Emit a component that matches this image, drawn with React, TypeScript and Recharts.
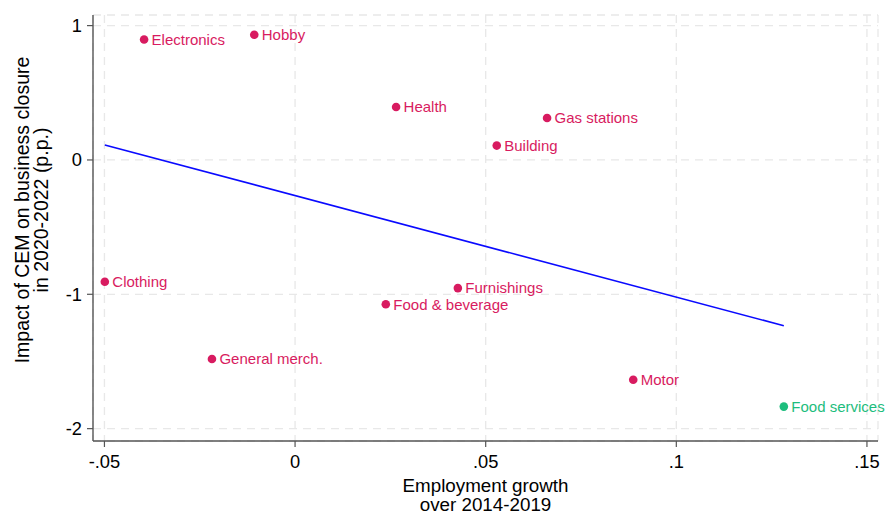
import React from 'react';
import { ScatterChart, Scatter, XAxis, YAxis, CartesianGrid } from 'recharts';

// Industry-level points: employment growth (x) vs. estimated CEM impact (y)
const industries = [
  'Electronics',
  'Hobby',
  'Health',
  'Gas stations',
  'Building',
  'Clothing',
  'Furnishings',
  'Food & beverage',
  'General merch.',
  'Motor',
  'Food services',
];
const employmentGrowth = [
  -0.0396, -0.0107, 0.0265, 0.0661, 0.0529, -0.0499, 0.0427, 0.0238, -0.0218, 0.0887, 0.1282,
];
const cemImpact = [0.897, 0.932, 0.394, 0.312, 0.107, -0.907, -0.954, -1.074, -1.482, -1.636, -1.836];
const highlighted = ['Food services'];

// Linear fit endpoints
const fitX = [-0.0499, 0.1282];
const fitY = [0.112, -1.234];

const xTicks = [-0.05, 0, 0.05, 0.1, 0.15];
const xTickLabels = ['-.05', '0', '.05', '.1', '.15'];
const yTicks = [-2, -1, 0, 1];
const yTickLabels = ['-2', '-1', '0', '1'];

const PINK = '#d81b60';
const GREEN = '#1dbd7d';
const FONT = '"Liberation Sans", Arial, Helvetica, sans-serif';

const points = industries.map((name, i) => ({ name, x: employmentGrowth[i], y: cemImpact[i] }));
const regular = points.filter((p) => !highlighted.includes(p.name));
const special = points.filter((p) => highlighted.includes(p.name));
const fit = fitX.map((x, i) => ({ x, y: fitY[i] }));

const labelled = (color: string) => (props: any) => {
  const { cx, cy, payload } = props;
  if (cx == null || cy == null) return <g />;
  return (
    <g>
      <circle cx={cx} cy={cy} r={4.3} fill={color} />
      <text x={cx + 7.5} y={cy + 5.3} fontSize={15} fontFamily={FONT} fill={color}>
        {payload.name}
      </text>
    </g>
  );
};

const XTitle = (props: any) => {
  const vb = props.viewBox || {};
  const cx = vb.x + vb.width / 2;
  return (
    <g fontSize={18.8} fontFamily={FONT} fill="#000">
      <text x={cx} y={vb.y + 50.5} textAnchor="middle">
        Employment growth
      </text>
      <text x={cx} y={vb.y + 69.5} textAnchor="middle">
        over 2014-2019
      </text>
    </g>
  );
};

const YTitle = () => {
  const cy = 210;
  return (
    <g fontSize={19.5} fontFamily={FONT} fill="#000">
      <text x={29} y={cy} textAnchor="middle" transform={`rotate(-90, 29, ${cy})`}>
        Impact of CEM on business closure
      </text>
      <text x={48} y={cy} textAnchor="middle" transform={`rotate(-90, 48, ${cy})`}>
        in 2020-2022 (p.p.)
      </text>
    </g>
  );
};

export default function App() {
  return (
    <div style={{ position: 'absolute', left: 0, top: 0, background: '#fff' }}>
      <ScatterChart width={885} height={512} margin={{ top: 15, right: 7, bottom: 0, left: 0 }}>
        <CartesianGrid stroke="#e8e8e8" strokeDasharray="8 6" strokeWidth={1.3} />
        <XAxis
          type="number"
          dataKey="x"
          domain={[-0.053, 0.1529]}
          ticks={xTicks}
          tickFormatter={(v: number) => xTickLabels[xTicks.indexOf(v)] ?? String(v)}
          height={71}
          tickSize={6}
          tickMargin={8}
          axisLine={{ stroke: '#555', strokeWidth: 1.4 }}
          tickLine={{ stroke: '#555', strokeWidth: 1.2 }}
          tick={{ fill: '#000', fontSize: 18.3, fontFamily: FONT }}
          label={<XTitle />}
        />
        <YAxis
          type="number"
          dataKey="y"
          domain={[-2.092, 1.079]}
          ticks={yTicks}
          tickFormatter={(v: number) => yTickLabels[yTicks.indexOf(v)] ?? String(v)}
          width={93}
          tickSize={6}
          tickMargin={5}
          axisLine={{ stroke: '#555', strokeWidth: 1.4 }}
          tickLine={{ stroke: '#555', strokeWidth: 1.2 }}
          tick={{ fill: '#000', fontSize: 18.3, fontFamily: FONT }}
          label={<YTitle />}
        />
        <Scatter
          data={fit}
          line={{ stroke: '#0a0aff', strokeWidth: 1.6 }}
          shape={() => <g />}
          isAnimationActive={false}
        />
        <Scatter data={regular} shape={labelled(PINK)} isAnimationActive={false} />
        <Scatter data={special} shape={labelled(GREEN)} isAnimationActive={false} />
      </ScatterChart>
    </div>
  );
}
